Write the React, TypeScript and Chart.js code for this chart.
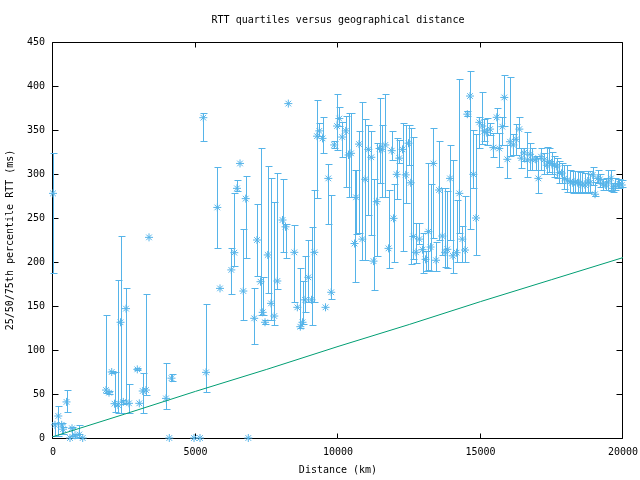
import { useEffect, useRef } from "react";
import { Chart, registerables } from "chart.js";

Chart.register(...registerables);

// Distance (km) of each measured host group
const distanceKm = [
  0, 70, 186, 305, 351, 474, 597, 667, 772, 923, 1042,
  1860, 1965, 2060, 2158, 2281, 2369, 2467, 2562, 2667, 2958, 3028, 3148, 3263, 3369,
  3965, 4081, 4158, 4948, 5158, 5274, 5369, 5765, 5860, 6257, 6362, 6456, 6562, 6678, 6762, 6853,
  7060, 7158, 7281, 7358, 7439, 7534, 7650, 7765, 7871, 8053, 8158, 8257, 8467, 8573, 8678, 8755,
  8843, 8959, 9071, 9169, 9264, 9345, 9457, 9562, 9660, 9762, 9867, 9966, 10046, 10148, 10271,
  10369, 10457, 10580, 10632, 10738, 10853, 10955, 11064, 11169, 11246, 11359, 11457, 11544,
  11660, 11773, 11885, 11948, 12060, 12152, 12264, 12376, 12474, 12552, 12643, 12738, 12854,
  12966, 13071, 13170, 13247, 13345, 13440, 13545, 13661, 13755, 13836, 13931, 14029, 14159,
  14257, 14362, 14457, 14538, 14632, 14748, 14843, 14959, 15064, 15134, 15219, 15335, 15450,
  15569, 15660, 15765, 15835, 15941, 16036, 16153, 16247, 16363, 16433, 16528, 16644, 16738,
  16819, 16938, 17030, 17124, 17230, 17324, 17415, 17500, 17591, 17676, 17766, 17850, 17942,
  18047, 18141, 18236, 18317, 18412, 18492, 18573, 18668, 18762, 18843, 18938, 19019, 19114,
  19194, 19289, 19393, 19485, 19580, 19640, 19720, 19822, 19872, 19955,
];

// 50th percentile RTT (ms)
const rttMedian = [
  278, 15, 25, 15, 10, 41, 0, 11, 3, 4, 0,
  54.5, 51.5, 75, 39, 37.5, 131.5, 41, 147, 39.4, 78, 39.4, 53.4, 54.5, 228,
  45, 0, 68, 0, 0, 364, 74.6, 262, 170, 191, 210.6, 283.7, 312, 167, 272, 0,
  136, 225, 177.6, 142.8, 131.5, 208, 153, 138.6, 178.4, 247.7, 240, 380, 211, 148.5, 126.5, 131.5,
  157, 182.6, 157, 211, 343, 349, 340.5, 148.5, 295, 165.6, 333, 354.5, 363, 342, 349,
  321.6, 323.5, 221, 273.5, 334, 226, 294, 328, 319, 201, 268.6, 329, 328,
  333, 215.5, 326.5, 249.6, 299.6, 318, 328, 299, 335, 290, 229, 211, 226,
  214, 203, 234.5, 217, 312, 202, 281.8, 229.5, 211, 214.4, 295, 207, 210.6,
  278, 226, 213.6, 368, 388.6, 299.6, 250, 358.7, 354.5, 349, 347, 351, 330,
  364.4, 329, 353.8, 387, 316.7, 336.7, 333, 339.4, 351, 318, 324, 316, 322.4,
  316, 316.7, 295, 319.7, 316, 310, 314, 312, 310, 309, 301.5, 301, 295,
  293, 291, 290, 291, 290, 290, 287.5, 287.5, 292, 290, 299, 277, 295,
  294, 288.6, 287.5, 291, 295, 283.7, 286, 287.5, 289, 287.5,
];

// 25th percentile RTT (ms)
const rttQ25 = [
  188, 2, 2, 5, 4, 29, 0, 2, 0, 1, 0,
  51, 50, 74, 29.5, 28, 28, 39, 40, 28, 77, 39.4, 28, 49, 228,
  33, 0, 65, 0, 0, 337.5, 52, 215.5, 170, 164, 195, 281, 312, 134, 205, 0,
  106.5, 184, 140, 140, 129, 164.4, 134, 128.4, 169, 211, 205, 380, 154, 148.5, 125, 129,
  143, 154, 128.4, 154, 272.4, 343, 324, 148.5, 243, 157.6, 330, 327, 355, 319, 285.6,
  274, 274, 177.6, 232, 232.6, 202, 202, 253, 230.7, 168, 206.8, 289.4, 274,
  274, 193, 316, 199.6, 272, 313, 212.5, 267, 310, 197.7, 203, 198.5, 220,
  188, 190, 191, 190, 227, 190, 225, 208, 194.7, 193, 225, 188, 200,
  232.6, 200, 200, 366, 238, 283.7, 208, 330, 334, 338, 333, 344, 319,
  347, 307.6, 333, 354, 296, 320, 322, 322, 330, 307, 315, 297, 305,
  305, 305, 278, 305, 300, 300, 302, 300, 297, 296, 290, 290, 283,
  280, 279, 278, 280, 278, 280, 278, 280, 278, 280, 287, 275, 290,
  285, 282, 282, 282, 281, 280, 282, 284, 284, 285,
];

// 75th percentile RTT (ms)
const rttQ75 = [
  324, 17, 36, 17, 13, 54, 0, 13, 5, 15, 0,
  140, 53, 76, 75, 180, 229, 43, 171, 61, 79, 39.4, 73.5, 164, 228,
  85, 0, 73, 0, 0, 369, 152, 307.6, 170, 215.5, 278, 293, 312, 238, 297.5, 0,
  171, 266, 329, 183, 134, 309.5, 296, 268.6, 300.8, 294, 243, 380, 242, 148.5, 193, 178.4,
  207, 225, 239.4, 282, 384, 357.6, 365, 148.5, 311, 276, 338, 391, 376, 359.5, 366,
  369, 369, 304.5, 304.5, 349, 382, 362, 355.7, 349, 294, 335, 386, 355.7,
  390.6, 281.8, 349, 289, 340.5, 339, 358, 355.7, 356, 352, 342.4, 244, 244,
  232.6, 212, 312, 289, 352, 223, 338, 284.5, 283.7, 281, 333, 316, 271,
  407.6, 241, 275, 372, 417, 350, 346, 365, 393.6, 362, 364, 358.5, 347,
  374.6, 347, 365, 412.5, 333, 410, 345, 357, 365, 330, 330, 348, 335,
  330, 320, 318, 330, 324, 331, 330, 325, 320, 318, 315, 312, 310,
  310, 305, 303, 303, 303, 302, 303, 301, 303, 300, 308, 291, 305,
  300, 294, 296, 305, 305, 290, 295, 294, 294, 293,
];

// Lower bound line (speed-of-light in fibre)
const boundKm = [0, 2500, 5000, 7500, 10000, 12500, 15000, 17500, 20000];
const boundRtt = [1.5, 27, 53, 78, 104, 129, 155, 180, 205];

const xTicks = [0, 5000, 10000, 15000, 20000];
const yTicks = [0, 50, 100, 150, 200, 250, 300, 350, 400, 450];

const BLUE = "#56b4e9";
const GREEN = "#009e73";
const FONT = "'DejaVu Sans Mono', 'Liberation Mono', monospace";

const gnuplotFrame = {
  id: "gnuplotFrame",
  beforeDatasetsDraw(chart: any) {
    const { ctx, chartArea: a, scales } = chart;
    const xs = scales.x;
    const ys = scales.y;
    const L = Math.round(a.left) - 0.5;
    const R = Math.round(a.right) - 0.5;
    const T = Math.round(a.top) + 0.5;
    const B = Math.round(a.bottom) + 0.5;
    ctx.save();
    ctx.strokeStyle = "#000";
    ctx.lineWidth = 1;
    ctx.beginPath();
    ctx.rect(L, T, R - L, B - T);
    for (const v of yTicks) {
      const p = Math.round(ys.getPixelForValue(v)) + 0.5;
      ctx.moveTo(L, p);
      ctx.lineTo(L + 6, p);
      ctx.moveTo(R, p);
      ctx.lineTo(R - 6, p);
    }
    for (const v of xTicks) {
      const p = Math.round(xs.getPixelForValue(v)) - 0.5;
      ctx.moveTo(p, B);
      ctx.lineTo(p, B - 5);
      ctx.moveTo(p, T);
      ctx.lineTo(p, T + 5);
    }
    ctx.stroke();

    // error bars (25th..75th percentile)
    ctx.strokeStyle = BLUE;
    ctx.beginPath();
    for (let i = 0; i < distanceKm.length; i++) {
      if (rttQ75[i] === rttQ25[i]) continue;
      const x = Math.round(xs.getPixelForValue(distanceKm[i])) + 0.5;
      const y1 = Math.round(ys.getPixelForValue(rttQ25[i])) + 0.5;
      const y2 = Math.round(ys.getPixelForValue(rttQ75[i])) + 0.5;
      ctx.moveTo(x, y1);
      ctx.lineTo(x, y2);
      ctx.moveTo(x - 3, y1);
      ctx.lineTo(x + 4, y1);
      ctx.moveTo(x - 3, y2);
      ctx.lineTo(x + 4, y2);
    }
    ctx.stroke();
    ctx.restore();
  },
};

export default function App() {
  const ref = useRef<HTMLCanvasElement | null>(null);

  useEffect(() => {
    if (!ref.current) return;
    const chart = new Chart(ref.current, {
      type: "scatter",
      data: {
        datasets: [
          {
            label: "bound",
            data: boundKm.map((x, i) => ({ x, y: boundRtt[i] })),
            showLine: true,
            borderColor: GREEN,
            borderWidth: 1,
            pointRadius: 0,
            tension: 0,
            clip: false,
          },
          {
            label: "median",
            data: distanceKm.map((x, i) => ({ x, y: rttMedian[i] })),
            showLine: false,
            pointStyle: "star",
            pointRadius: 4,
            borderColor: BLUE,
            backgroundColor: BLUE,
            borderWidth: 1,
            clip: false,
          },
        ],
      },
      options: {
        responsive: false,
        animation: false,
        devicePixelRatio: 1,
        layout: { padding: { left: 0, right: 17, top: 0, bottom: 0 } },
        plugins: {
          legend: { display: false },
          tooltip: { enabled: false },
          title: {
            display: true,
            text: "RTT quartiles versus geographical distance",
            color: "#000",
            font: { family: FONT, size: 10, weight: "normal" },
            padding: { top: 14, bottom: 16 },
            fullSize: false,
          },
        },
        scales: {
          x: {
            type: "linear",
            min: 0,
            max: 20000,
            grid: { display: false, drawTicks: false },
            border: { display: false },
            ticks: {
              stepSize: 5000,
              color: "#000",
              padding: 8,
              maxRotation: 0,
              font: { family: FONT, size: 10 },
              callback: (v: any) => String(v),
            },
            title: {
              display: true,
              text: "Distance (km)",
              color: "#000",
              font: { family: FONT, size: 10 },
              padding: { top: 0, bottom: 4 },
            },
            afterFit: (s: any) => {
              s.height = 42;
              s.paddingLeft = 0;
              s.paddingRight = 0;
            },
          },
          y: {
            type: "linear",
            min: 0,
            max: 450,
            grid: { display: false, drawTicks: false },
            border: { display: false },
            ticks: {
              stepSize: 50,
              color: "#000",
              padding: 8,
              font: { family: FONT, size: 10 },
            },
            title: {
              display: true,
              text: "25/50/75th percentile RTT (ms)",
              color: "#000",
              font: { family: FONT, size: 10 },
              padding: { top: 4, bottom: 0 },
            },
            afterFit: (s: any) => {
              s.width = 53;
              s.paddingTop = 0;
              s.paddingBottom = 0;
            },
          },
        },
      },
      plugins: [gnuplotFrame],
    });
    return () => chart.destroy();
  }, []);

  return (
    <div style={{ position: "fixed", left: 0, top: 0, width: 640, height: 480, background: "#fff" }}>
      <canvas ref={ref} width={640} height={480} style={{ display: "block" }} />
    </div>
  );
}
